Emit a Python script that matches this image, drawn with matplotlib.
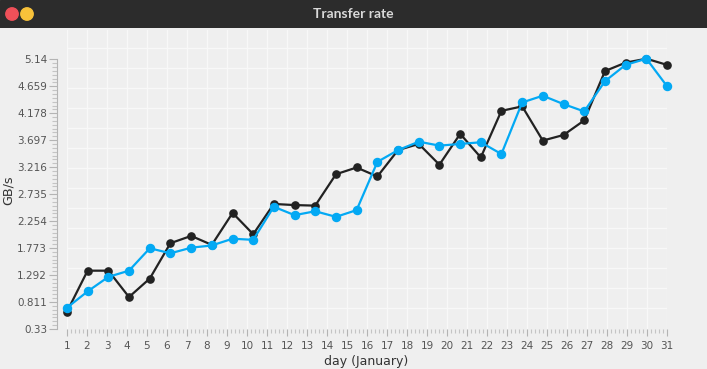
import numpy as np
import matplotlib
matplotlib.use("Agg")
import matplotlib.pyplot as plt
from matplotlib.patches import Circle, Rectangle
from matplotlib.ticker import MultipleLocator, FixedLocator

# days of the sample points (30 samples spread over 1..31)
days = [1.00, 2.03, 3.07, 4.10, 5.14, 6.17, 7.21, 8.24, 9.28, 10.31,
        11.34, 12.38, 13.41, 14.45, 15.48, 16.52, 17.55, 18.59, 19.62, 20.66,
        21.69, 22.72, 23.76, 24.79, 25.83, 26.86, 27.90, 28.93, 29.97, 31.00]

black_rate = [0.64, 1.37, 1.37, 0.90, 1.23, 1.86, 1.99, 1.83, 2.40, 2.02,
              2.56, 2.54, 2.53, 3.09, 3.21, 3.05, 3.52, 3.63, 3.26, 3.81,
              3.39, 4.22, 4.30, 3.69, 3.79, 4.05, 4.93, 5.08, 5.15, 5.04]

blue_rate = [0.71, 1.00, 1.26, 1.37, 1.77, 1.68, 1.78, 1.82, 1.94, 1.92,
             2.51, 2.36, 2.43, 2.33, 2.45, 3.31, 3.52, 3.67, 3.60, 3.63,
             3.66, 3.45, 4.37, 4.49, 4.34, 4.21, 4.75, 5.04, 5.15, 4.66]

y_ticks = [0.33, 0.811, 1.292, 1.773, 2.254, 2.735, 3.216, 3.697, 4.178, 4.659, 5.14]
y_labels = ["0.33", "0.811", "1.292", "1.773", "2.254", "2.735", "3.216",
            "3.697", "4.178", "4.659", "5.14"]
x_ticks = list(range(1, 32))

W, H = 707, 369
bg = "#efefef"
grid_c = "#f8f8f8"
tick_c = "#b4b4b4"
text_c = "#555555"

fig = plt.figure(figsize=(W / 100, H / 100), dpi=100, facecolor=bg)

# plot area: x 67..667 px, y 30..329 px (from top)
ax = fig.add_axes([67 / W, (H - 329) / H, 600 / W, 299 / H])
ax.set_facecolor(bg)
ymax = 5.14 + 29.3 * (4.81 / 270)
ax.set_xlim(1, 31)
ax.set_ylim(0.33, ymax)

# background grid: 20 px squares
ax.set_xticks(x_ticks)
ax.xaxis.set_minor_locator(MultipleLocator(0.2))
ax.grid(axis="x", which="major", color=grid_c, lw=1.0, zorder=0)
step = 20 * 4.81 / 270
hy = 0.33 + 21 * 4.81 / 270
ys = []
while hy < ymax:
    ys.append(hy)
    hy += step
ax.hlines(ys, 1, 31, color=grid_c, lw=1.0, zorder=0)

ax.plot(days, black_rate, "-o", color="#222222", lw=1.6, ms=5.2,
        clip_on=False, zorder=3)
ax.plot(days, blue_rate, "-o", color="#03a9f4", lw=1.6, ms=5.8,
        clip_on=False, zorder=4)

for s in ["top", "right", "bottom"]:
    ax.spines[s].set_visible(False)
ax.spines["left"].set_position(("outward", 7))
ax.spines["left"].set_bounds(0.33, 5.14)
ax.spines["left"].set_color(tick_c)
ax.spines["left"].set_linewidth(0.8)

ax.set_yticks(y_ticks)
ax.set_yticklabels(y_labels)
ax.yaxis.set_minor_locator(FixedLocator(
    [0.33 + 0.481 * i / 7 for i in range(71) if i % 7]))
ax.tick_params(axis="y", which="major", length=5.8, width=0.8, color=tick_c,
               labelsize=7.5, labelcolor=text_c, pad=1.5)
ax.tick_params(axis="y", which="minor", length=3.5, width=0.8, color="#c4c4c4")
ax.tick_params(axis="x", which="major", length=5.2, width=0.8, color=tick_c,
               labelsize=7.5, labelcolor=text_c, pad=3.5)
ax.tick_params(axis="x", which="minor", length=3.2, width=0.8, color="#c4c4c4")

fig.text(366 / W, 1 - 361 / H, "day (January)", ha="center", va="center",
         fontsize=9, color="#333333")
fig.text(8 / W, 1 - 190 / H, "GB/s", ha="center", va="center",
         rotation=90, fontsize=9.2, color="#333333")

# window title bar
bar = fig.add_axes([0, 1 - 28 / H, 1, 28 / H])
bar.set_xlim(0, W)
bar.set_ylim(28, 0)
bar.axis("off")
bar.add_patch(Rectangle((0, 0), W, 28, color="#2c2c2c"))
bar.add_patch(Circle((12, 14), 6.2, color="#ef5059"))
bar.add_patch(Circle((27, 14), 6.2, color="#f8c23a"))
bar.text(W / 2, 14.5, "Transfer rate", ha="center", va="center",
         fontsize=10, fontweight="bold", color="#d9d9d9", family="Lato")

fig.savefig("out.png", dpi=100, facecolor=bg)
